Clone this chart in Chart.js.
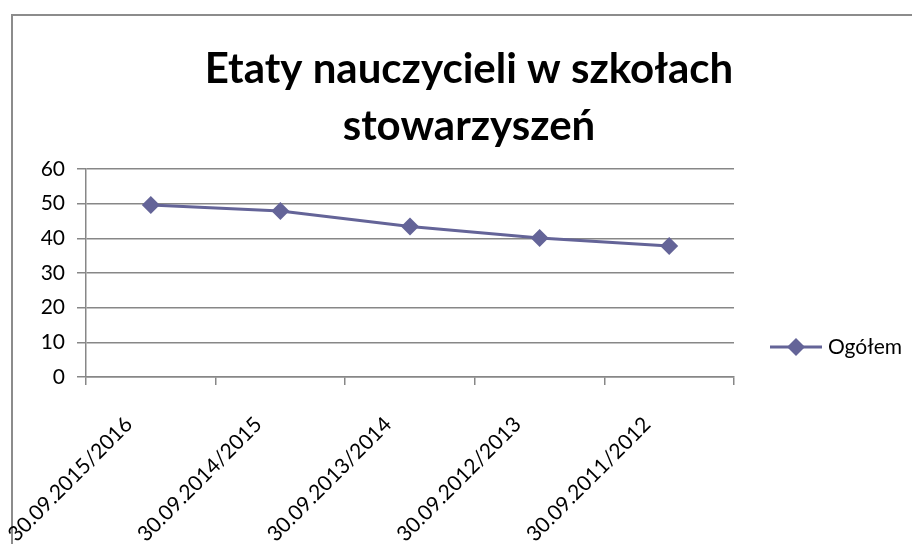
<!DOCTYPE html>
<html>
<head>
<meta charset="utf-8">
<script src="https://cdn.jsdelivr.net/npm/chart.js@4.4.1/dist/chart.umd.min.js"></script>
<style>
    html, body { margin: 0; padding: 0; background: #fff; }
    #wrap { position: relative; width: 912px; height: 544px; overflow: hidden; }
    #frame { position: absolute; left: 11px; top: 14px; width: 1000px; height: 1000px;
             border-top: 2px solid #8c8c8c; border-left: 2px solid #8c8c8c; }
    #c { position: absolute; left: 0; top: 0; }
</style>
</head>
<body>
<div id="wrap">
    <div id="frame"></div>
    <canvas id="c" width="912" height="544"></canvas>
</div>
<script>
const categories = ['30.09.2015/2016', '30.09.2014/2015', '30.09.2013/2014', '30.09.2012/2013', '30.09.2011/2012'];
const values = [49.6, 47.9, 43.4, 40.1, 37.8];
const seriesName = 'Ogółem';
const titleLines = ['Etaty nauczycieli w szkołach', 'stowarzyszeń'];
const yMin = 0, yMax = 60, yStep = 10;

const lineColor = '#646498';
const gridColor = '#878787';
const fontFamily = 'Lato, "Open Sans", sans-serif';

// Excel-style legend: short line with a diamond in the middle
const lineLegend = {
    id: 'lineLegend',
    afterDraw(chart) {
        const ctx = chart.ctx;
        const ds = chart.data.datasets[0];
        const x0 = chart.chartArea.right + 36;
        const y = 347;
        ctx.save();
        ctx.strokeStyle = ds.borderColor;
        ctx.lineWidth = 3;
        ctx.beginPath();
        ctx.moveTo(x0, y);
        ctx.lineTo(x0 + 52, y);
        ctx.stroke();
        ctx.fillStyle = ds.backgroundColor;
        const cx = x0 + 26, r = 9;
        ctx.beginPath();
        ctx.moveTo(cx, y - r);
        ctx.lineTo(cx + r, y);
        ctx.lineTo(cx, y + r);
        ctx.lineTo(cx - r, y);
        ctx.closePath();
        ctx.fill();
        ctx.fillStyle = '#000';
        ctx.font = '21px ' + fontFamily;
        ctx.textBaseline = 'middle';
        ctx.textAlign = 'left';
        ctx.fillText(ds.label, x0 + 58, y);
        ctx.restore();
    }
};

new Chart(document.getElementById('c'), {
    type: 'line',
    data: {
        labels: categories,
        datasets: [{
            label: seriesName,
            data: values,
            borderColor: lineColor,
            backgroundColor: lineColor,
            borderWidth: 3,
            pointStyle: 'rectRot',
            pointRadius: 9,
            pointHoverRadius: 9,
            pointBorderWidth: 0,
            tension: 0,
            yAxisID: 'y'
        }]
    },
    options: {
        responsive: false,
        animation: false,
        layout: { padding: { left: 26, right: 0, top: 0, bottom: 0 } },
        plugins: {
            legend: { display: false },
            tooltip: { enabled: false },
            title: {
                display: true,
                text: titleLines,
                color: '#000',
                font: { family: fontFamily, size: 42, weight: 'bold', lineHeight: 1.35 },
                padding: { top: 41, bottom: 14.6 }
            }
        },
        scales: {
            x: {
                offset: true,
                grid: { offset: true, drawOnChartArea: false, tickLength: 8, color: gridColor, lineWidth: 1.5 },
                border: { color: gridColor, width: 1.5 },
                ticks: {
                    color: '#000', font: { family: fontFamily, size: 21 },
                    maxRotation: 45, minRotation: 45, padding: 27, labelOffset: -22
                },
                afterFit(scale) {
                    scale.height = 167;
                    // rotated labels may hang past the left edge, as in the original
                    scale.paddingLeft = 0;
                    scale.paddingRight = 0;
                }
            },
            y: {
                min: yMin,
                max: yMax,
                grid: { color: gridColor, lineWidth: 1.5, tickLength: 9 },
                border: { color: gridColor, width: 1.5 },
                ticks: { stepSize: yStep, color: '#000', font: { family: fontFamily, size: 21 }, padding: 12 },
                afterFit(scale) { scale.width = 60; }
            },
            // empty right axis, only reserves room for the legend
            legendSpace: {
                position: 'right',
                grid: { display: false },
                border: { display: false },
                ticks: { display: false },
                afterFit(scale) { scale.width = 178; }
            }
        }
    },
    plugins: [lineLegend]
});
</script>
</body>
</html>
